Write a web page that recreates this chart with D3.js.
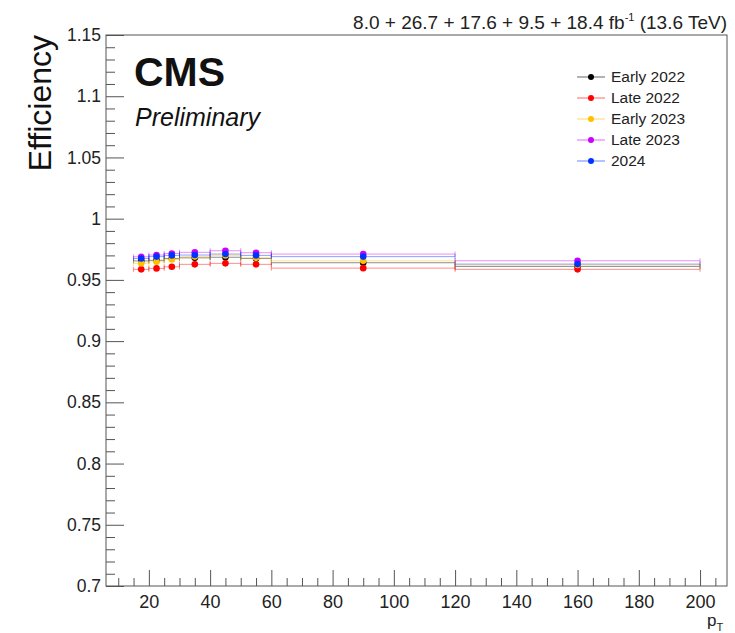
<!DOCTYPE html>
<html>
<head>
  <meta charset="utf-8">
  <script src="https://d3js.org/d3.v7.min.js"></script>
  <style>
    body { margin: 0; background: #fff; }
    * { font-family: 'Liberation Sans', Arial, sans-serif; }
  </style>
</head>
<body>
  <div class="chart"></div>
  <script>
    // pT bins
    const binLo = [15, 20, 25, 30, 40, 50, 60, 120];
    const binHi = [20, 25, 30, 40, 50, 60, 120, 200];
    const ptCenter = [17.5, 22.5, 27.5, 35, 45, 55, 90, 160];

    // efficiency per period
    const effEarly2022 = [0.9655, 0.9660, 0.9675, 0.9680, 0.9685, 0.9675, 0.9640, 0.9610];
    const effLate2022 = [0.9586, 0.9594, 0.9607, 0.9627, 0.9635, 0.9627, 0.9596, 0.9586];
    const effEarly2023 = [0.9635, 0.9648, 0.9667, 0.9690, 0.9700, 0.9680, 0.9656, 0.9622];
    const effLate2023 = [0.9689, 0.9703, 0.9716, 0.9725, 0.9738, 0.9722, 0.9711, 0.9656];
    const eff2024 = [0.9675, 0.9690, 0.9700, 0.9703, 0.9711, 0.9700, 0.9690, 0.9629];

    const seriesNames = ['Early 2022', 'Late 2022', 'Early 2023', 'Late 2023', '2024'];
    const seriesColors = ['#000000', '#ff0000', '#ffc000', '#cc00ff', '#0033ff'];
    const seriesValues = [effEarly2022, effLate2022, effEarly2023, effLate2023, eff2024];

    const xTicks = [20, 40, 60, 80, 100, 120, 140, 160, 180, 200];
    const yTicks = [0.7, 0.75, 0.8, 0.85, 0.9, 0.95, 1, 1.05, 1.1, 1.15];

    const W = 735, H = 633;
    const padL = 106, padR = 727, padT = 35, padB = 586;

    const svg = d3.select('.chart').append('svg')
      .attr('width', W)
      .attr('height', H);

    const x = d3.scaleLinear().domain([6, 208.8]).range([padL, padR]);
    const y = d3.scaleLinear().domain([0.7, 1.15]).range([padB, padT]);

    const xMinor = d3.range(10, 209, 5).filter(v => v % 20 !== 0);
    const yMinor = d3.range(70, 116, 1).map(v => v / 100).filter(v => Math.round(v * 100) % 5 !== 0);

    // axes, ticks pointing inside
    const gx = svg.append('g').attr('transform', `translate(0,${padB})`)
      .call(d3.axisBottom(x).tickValues(xTicks).tickSize(-16).tickPadding(9).tickFormat(d3.format('d')));
    svg.append('g').attr('transform', `translate(0,${padB})`)
      .call(d3.axisBottom(x).tickValues(xMinor).tickSize(-8).tickFormat(''));

    const gy = svg.append('g').attr('transform', `translate(${padL},0)`)
      .call(d3.axisLeft(y).tickValues(yTicks).tickSize(-18).tickPadding(5).tickFormat(d => String(+d.toFixed(2))));
    svg.append('g').attr('transform', `translate(${padL},0)`)
      .call(d3.axisLeft(y).tickValues(yMinor).tickSize(-9).tickFormat(''));

    svg.selectAll('.domain').remove();
    svg.selectAll('.tick line').attr('stroke', '#555');
    gx.selectAll('text').attr('font-size', 18).attr('fill', '#222');
    gy.selectAll('text').attr('font-size', 17.5).attr('fill', '#222');

    svg.append('rect')
      .attr('x', padL).attr('y', padT)
      .attr('width', padR - padL).attr('height', padB - padT)
      .attr('fill', 'none').attr('stroke', '#555').attr('stroke-width', 1);

    // data
    seriesValues.forEach((vals, s) => {
      const g = svg.append('g');
      const color = seriesColors[s];
      g.selectAll('line.bar').data(vals).enter().append('line')
        .attr('x1', (d, i) => x(binLo[i]))
        .attr('x2', (d, i) => x(binHi[i]))
        .attr('y1', d => y(d)).attr('y2', d => y(d))
        .attr('stroke', color).attr('stroke-opacity', 0.45);
      [binLo, binHi].forEach(edge => {
        g.selectAll(null).data(vals).enter().append('line')
          .attr('x1', (d, i) => x(edge[i])).attr('x2', (d, i) => x(edge[i]))
          .attr('y1', d => y(d) - 2.5).attr('y2', d => y(d) + 2.5)
          .attr('stroke', color).attr('stroke-opacity', 0.45);
      });
      g.selectAll('circle').data(vals).enter().append('circle')
        .attr('cx', (d, i) => x(ptCenter[i]))
        .attr('cy', d => y(d))
        .attr('r', 3.3)
        .attr('fill', color);
    });

    // legend
    const legend = svg.append('g');
    seriesNames.forEach((name, i) => {
      const ly = 77 + i * 21;
      legend.append('line').attr('x1', 577).attr('x2', 605).attr('y1', ly).attr('y2', ly)
        .attr('stroke', seriesColors[i]).attr('stroke-opacity', 0.6);
      legend.append('circle').attr('cx', 591).attr('cy', ly).attr('r', 3).attr('fill', seriesColors[i]);
      legend.append('text').attr('x', 611).attr('y', ly).attr('dy', '0.35em')
        .attr('font-size', 15.5).attr('fill', '#222').text(name);
    });

    // labels
    svg.append('text').attr('x', 134).attr('y', 86)
      .attr('font-size', 41).attr('font-weight', 'bold').attr('fill', '#111').text('CMS');
    svg.append('text').attr('x', 135).attr('y', 126)
      .attr('font-size', 25).attr('font-style', 'italic').attr('fill', '#111').text('Preliminary');

    const lumi = svg.append('text').attr('x', 727).attr('y', 29)
      .attr('text-anchor', 'end').attr('font-size', 19).attr('fill', '#222');
    lumi.append('tspan').text('8.0 + 26.7 + 17.6 + 9.5 + 18.4 fb');
    lumi.append('tspan').attr('font-size', 11).attr('dy', -8).text('-1');
    lumi.append('tspan').attr('dy', 8).text(' (13.6 TeV)');

    svg.append('text')
      .attr('transform', 'translate(51,35) rotate(-90)')
      .attr('text-anchor', 'end').attr('font-size', 32).attr('fill', '#111')
      .text('Efficiency');

    const ptLabel = svg.append('text').attr('x', 707).attr('y', 626)
      .attr('font-size', 17).attr('fill', '#222');
    ptLabel.append('tspan').text('p');
    ptLabel.append('tspan').attr('font-size', 11).attr('dy', 5).text('T');
  </script>
</body>
</html>
